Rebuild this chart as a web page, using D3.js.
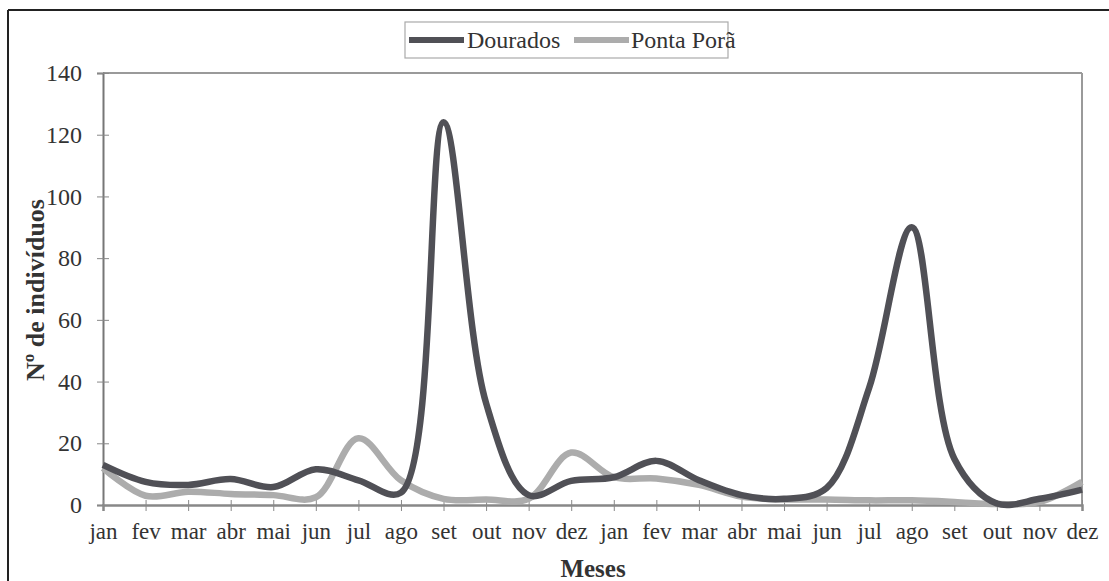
<!DOCTYPE html>
<html>
<head>
<meta charset="utf-8">
<script src="https://cdn.jsdelivr.net/npm/d3@7"></script>
<style>
  html, body { margin: 0; padding: 0; background: #fff; }
  svg { display: block; }
  text { font-family: "Liberation Serif", "Times New Roman", serif; fill: #333; }
</style>
</head>
<body>
<svg id="chart" width="1109" height="581" font-family="Liberation Serif, serif"></svg>
<script>
// ---- data ----
const months = ["jan","fev","mar","abr","mai","jun","jul","ago","set","out","nov","dez",
                "jan","fev","mar","abr","mai","jun","jul","ago","set","out","nov","dez"];
const dourados  = [13, 7.5, 6.5, 8.4, 5.8, 11.6, 8, 4, 124, 33, 3.2, 7.8,
                   9, 14.3, 8, 3.2, 2, 5.5, 38, 90, 15, 0.5, 2, 5];
const pontaPora = [12, 3, 4.3, 3.6, 3.2, 2.5, 21.6, 8, 2, 1.8, 2, 17,
                   9, 8.6, 6.5, 2.7, 1.8, 1.8, 1.5, 1.5, 1, 0.3, 1, 7.5];
const yTicks = [0, 20, 40, 60, 80, 100, 120, 140];
const seriesNames = ["Dourados", "Ponta Porã"];

// ---- layout ----
const svg = d3.select("#chart");
const L = 103, R = 1082, T = 73, B = 505;

const x = d3.scalePoint().domain(d3.range(months.length)).range([L, R]);
const y = d3.scaleLinear().domain([0, 140]).range([B, T]);

// outer frame (left + top visible)
svg.append("line").attr("x1", 8).attr("x2", 8).attr("y1", 10).attr("y2", 581)
  .attr("stroke", "#222").attr("stroke-width", 2);
svg.append("line").attr("x1", 8).attr("x2", 1109).attr("y1", 10).attr("y2", 10)
  .attr("stroke", "#222").attr("stroke-width", 2);

// plot frame top/right
svg.append("line").attr("x1", L).attr("x2", R).attr("y1", T).attr("y2", T)
  .attr("stroke", "#9a9a9a").attr("stroke-width", 2);
svg.append("line").attr("x1", R).attr("x2", R).attr("y1", T).attr("y2", B)
  .attr("stroke", "#9a9a9a").attr("stroke-width", 2);

// y axis
const yAxis = d3.axisLeft(y).tickValues(yTicks).tickSize(6).tickPadding(15);
const gy = svg.append("g").attr("transform", `translate(${L},0)`).call(yAxis);
gy.select(".domain").attr("stroke", "#777").attr("stroke-width", 2);
gy.selectAll(".tick line").attr("stroke", "#888").attr("x1", 6).attr("x2", -6);
gy.selectAll(".tick text").style("font-size", "24px").attr("fill", "#333")
  .style("font-family", "'Liberation Serif', serif");

// x axis
const xAxis = d3.axisBottom(x).tickFormat(i => months[i]).tickSize(6).tickPadding(12);
const gx = svg.append("g").attr("transform", `translate(0,${B})`).call(xAxis);
gx.select(".domain").attr("stroke", "#888").attr("stroke-width", 2.5);
gx.selectAll(".tick line").attr("stroke", "#888").attr("y1", -5).attr("y2", 6);
gx.selectAll(".tick text").style("font-size", "23px").attr("fill", "#333")
  .style("font-family", "'Liberation Serif', serif");

// lines
const line = d3.line()
  .x((d, i) => x(i))
  .y(d => y(d))
  .curve(d3.curveCatmullRom.alpha(0.5));

svg.append("path").datum(pontaPora)
  .attr("d", line).attr("fill", "none")
  .attr("stroke", "#acacac").attr("stroke-width", 6.5).attr("stroke-linejoin", "round");
svg.append("path").datum(dourados)
  .attr("d", line).attr("fill", "none")
  .attr("stroke", "#505056").attr("stroke-width", 6.5).attr("stroke-linejoin", "round");

// axis titles
svg.append("text").attr("transform", "translate(44,290) rotate(-90)")
  .attr("text-anchor", "middle").style("font-size", "26px").style("font-weight", "bold")
  .text("Nº de indivíduos");
svg.append("text").attr("x", 593).attr("y", 577)
  .attr("text-anchor", "middle").style("font-size", "25px").style("font-weight", "bold")
  .text("Meses");

// legend
const lg = svg.append("g");
lg.append("rect").attr("x", 405).attr("y", 22).attr("width", 323).attr("height", 36)
  .attr("fill", "#fff").attr("stroke", "#aaa").attr("stroke-width", 1.2);
const legendItems = [
  {name: seriesNames[0], color: "#505056", x0: 409, tx: 467},
  {name: seriesNames[1], color: "#acacac", x0: 574, tx: 631}
];
legendItems.forEach(it => {
  lg.append("line").attr("x1", it.x0).attr("x2", it.x0 + 55).attr("y1", 40).attr("y2", 40)
    .attr("stroke", it.color).attr("stroke-width", 6);
  lg.append("text").attr("x", it.tx).attr("y", 48).style("font-size", "24px").text(it.name);
});
</script>
</body>
</html>
